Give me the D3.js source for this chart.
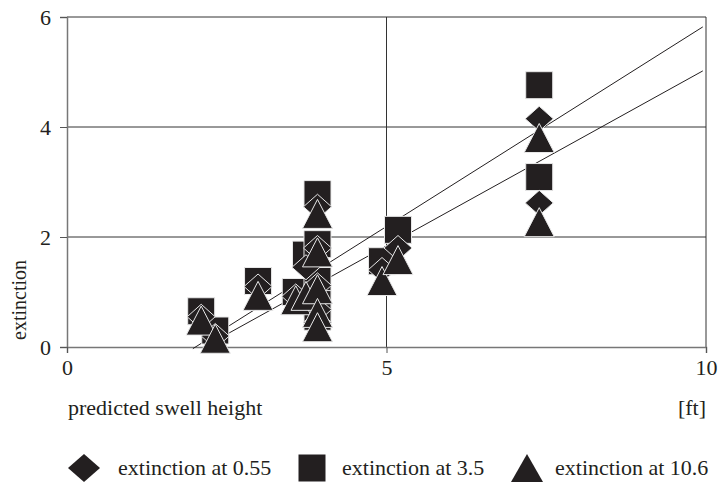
<!DOCTYPE html>
<html>
<head>
<meta charset="utf-8">
<script src="https://cdn.jsdelivr.net/npm/d3@7"></script>
<style>
  body { margin: 0; background: #fff; }
  svg text { font-family: "Liberation Serif", "DejaVu Serif", serif; fill: #231f20; }
</style>
</head>
<body>
<svg class="chart" width="723" height="482"></svg>
<script>
// predicted swell height [ft] for each observation
const swellHeight = [2.1, 2.32, 2.99, 3.58, 3.74, 3.92, 3.92, 3.92, 3.92, 3.92, 4.93, 5.18, 7.39, 7.39];
// extinction at the three wavelengths
const ext055 = [0.55, 0.2, 1.1, 0.92, 1.45, 2.55, 1.8, 1.12, 0.68, 0.45, 1.4, 1.8, 4.15, 2.62];
const ext35  = [0.65, 0.3, 1.2, 1.0, 1.68, 2.78, 1.87, 1.2, 0.78, 0.55, 1.56, 2.13, 4.76, 3.09];
const ext106 = [0.48, 0.15, 0.93, 0.85, 0.93, 2.42, 1.72, 1.05, 0.62, 0.36, 1.2, 1.58, 3.8, 2.27];
// fitted lines, [x, y] end points
const fitUpper = [[1.97, -0.03], [9.95, 5.82]];
const fitLower = [[2.14, 0], [9.95, 5.02]];

const xTicks = [0, 5, 10];
const yTicks = [0, 2, 4, 6];
const legendLabels = ["extinction at 0.55", "extinction at 3.5", "extinction at 10.6"];

let svg = d3.select("svg.chart"),
    margin = {top: 17, bottom: 135, left: 67, right: 17},
    width = +svg.attr("width"),
    height = +svg.attr("height");

let x = d3.scaleLinear().domain([0, 10]).range([margin.left, width - margin.right]);
let y = d3.scaleLinear().domain([0, 6]).range([height - margin.bottom, margin.top]);

const ink = "#231f20";
const serif = "'Liberation Serif', 'DejaVu Serif', serif";

// marker shapes, sized in px (w, h)
function box(w, h) {
    return {draw(ctx) {
        ctx.moveTo(-w / 2, -h / 2); ctx.lineTo(w / 2, -h / 2);
        ctx.lineTo(w / 2, h / 2); ctx.lineTo(-w / 2, h / 2); ctx.closePath();
    }};
}
function rhomb(w, h) {
    return {draw(ctx) {
        ctx.moveTo(0, -h / 2); ctx.lineTo(w / 2, 0);
        ctx.lineTo(0, h / 2); ctx.lineTo(-w / 2, 0); ctx.closePath();
    }};
}
function tri(w, h) {
    return {draw(ctx) {
        ctx.moveTo(0, -h / 2); ctx.lineTo(w / 2, h / 2);
        ctx.lineTo(-w / 2, h / 2); ctx.closePath();
    }};
}

// grid
svg.append("g")
    .selectAll("line")
    .data(yTicks.filter(d => d > 0))
    .join("line")
    .attr("x1", x(0)).attr("x2", x(10))
    .attr("y1", d => y(d)).attr("y2", d => y(d))
    .style("stroke", "#333").style("stroke-width", 1);

svg.append("g")
    .selectAll("line")
    .data(xTicks.filter(d => d > 0))
    .join("line")
    .attr("x1", d => x(d)).attr("x2", d => x(d))
    .attr("y1", y(0)).attr("y2", y(6))
    .style("stroke", "#333").style("stroke-width", 1);

// axes
let yAxis = svg.append("g")
    .attr("transform", "translate(" + x(0) + ",0)")
    .call(d3.axisLeft(y).tickValues(yTicks).tickFormat(d3.format("d")).tickSize(7).tickPadding(9));
let xAxis = svg.append("g")
    .attr("transform", "translate(0," + y(0) + ")")
    .call(d3.axisBottom(x).tickValues(xTicks).tickFormat(d3.format("d")).tickSize(6).tickPadding(6));

[xAxis, yAxis].forEach(ax => {
    ax.attr("font-family", serif).attr("font-size", 22);
    ax.select(".domain").style("stroke", "#777").style("stroke-width", 1.5);
    ax.selectAll(".tick line").style("stroke", "#555");
    ax.selectAll("text").style("fill", ink);
});
yAxis.selectAll("text").attr("dy", "0.35em");

// axis titles
svg.append("text")
    .attr("transform", "translate(19," + 300 + ") rotate(-90)")
    .attr("dy", "0.35em")
    .style("text-anchor", "middle")
    .style("font-size", "20px")
    .text("extinction");

svg.append("text")
    .attr("x", x(0) + 1)
    .attr("y", 415)
    .style("font-size", "22px")
    .text("predicted swell height");

svg.append("text")
    .attr("x", x(10))
    .attr("y", 415)
    .style("text-anchor", "end")
    .style("font-size", "22px")
    .text("[ft]");

// fitted lines
let line = d3.line().x(d => x(d[0])).y(d => y(d[1]));
[fitUpper, fitLower].forEach(f => {
    svg.append("path")
        .datum(f)
        .attr("d", line)
        .style("fill", "none")
        .style("stroke", ink)
        .style("stroke-width", 1);
});

// markers: squares first, then diamonds, triangles on top
const shapes = [
    d3.symbol().type(box(27, 27)),
    d3.symbol().type(rhomb(28, 25)),
    d3.symbol().type(tri(30, 29))
];
const series = [ext35, ext055, ext106];

series.forEach((vals, i) => {
    svg.append("g")
        .selectAll("path")
        .data(vals)
        .join("path")
        .attr("d", shapes[i])
        .attr("transform", (d, j) => "translate(" + x(swellHeight[j]) + "," + y(d) + ")")
        .style("fill", ink)
        .style("stroke", "#e8e8e8")
        .style("stroke-width", 1);
});

// legend
const legendShapes = [
    d3.symbol().type(rhomb(32, 28)),
    d3.symbol().type(box(27, 27)),
    d3.symbol().type(tri(32, 28))
];
const legendSym = [84, 312, 527];
const legendText = [118, 342, 555];
let legend = svg.append("g");
legendLabels.forEach((lab, i) => {
    legend.append("path")
        .attr("d", legendShapes[i])
        .attr("transform", "translate(" + legendSym[i] + ",468)")
        .style("fill", ink);
    legend.append("text")
        .attr("x", legendText[i])
        .attr("y", 467)
        .attr("dy", "0.35em")
        .style("font-size", "22px")
        .text(lab);
});
</script>
</body>
</html>
